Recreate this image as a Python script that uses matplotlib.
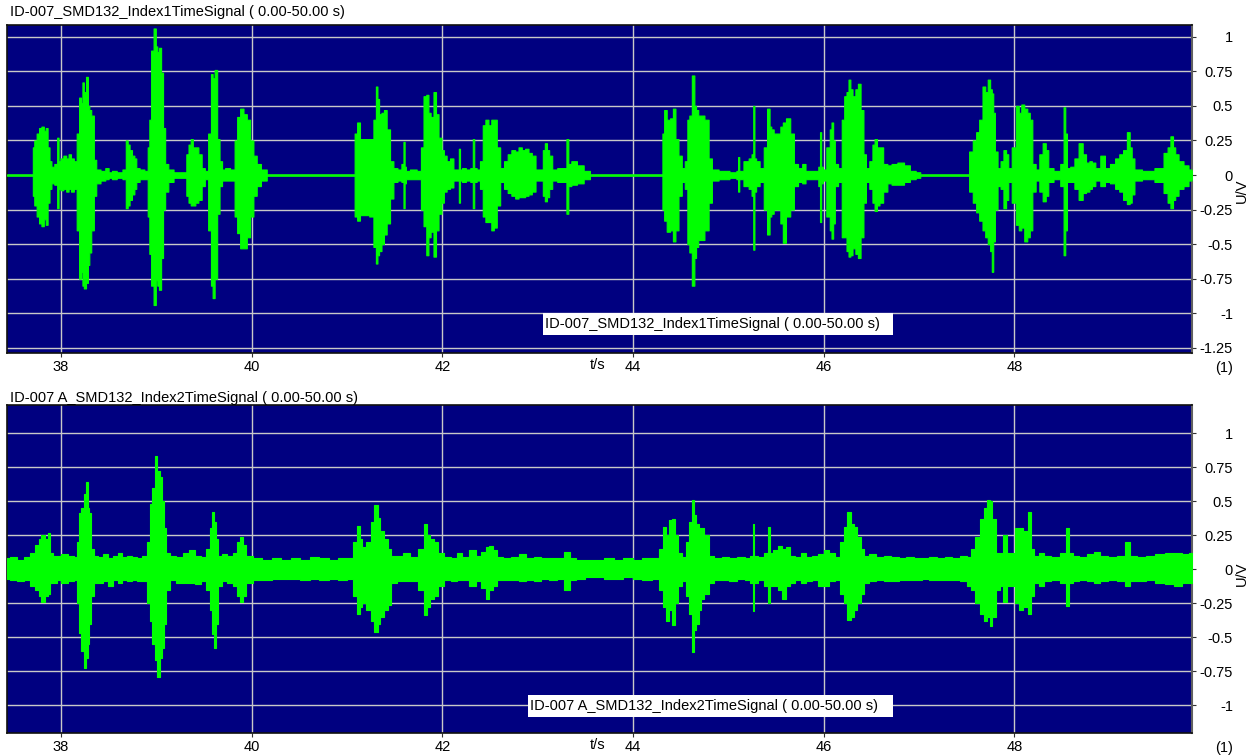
import matplotlib
matplotlib.use("Agg")
import matplotlib.pyplot as plt
from matplotlib.patches import Rectangle

W, H = 1254, 755
plt.rcParams['font.family'] = ['Liberation Sans', 'DejaVu Sans']

# ---------------- data ----------------
title_top = "ID-007_SMD132_Index1TimeSignal ( 0.00-50.00 s)"
title_bot = "ID-007 A_SMD132_Index2TimeSignal ( 0.00-50.00 s)"
x_ticks = [38, 40, 42, 44, 46, 48]
x_ticklabels = ["38", "40", "42", "44", "46", "48"]
y_ticks_top = [1, 0.75, 0.5, 0.25, 0, -0.25, -0.5, -0.75, -1, -1.25]
y_ticklabels_top = ["1", "0.75", "0.5", "0.25", "0", "-0.25", "-0.5", "-0.75", "-1", "-1.25"]
y_ticks_bot = [1, 0.75, 0.5, 0.25, 0, -0.25, -0.5, -0.75, -1]
y_ticklabels_bot = ["1", "0.75", "0.5", "0.25", "0", "-0.25", "-0.5", "-0.75", "-1"]

# Envelope of channel 1 (time in s, upper and lower amplitude in V)
top_time = [
    37.434, 37.70, 37.71, 37.73, 37.76, 37.78, 37.81, 37.83, 37.85, 37.87,
    37.89, 37.91, 37.95, 37.97, 37.98, 38.01, 38.04, 38.07, 38.09, 38.12,
    38.15, 38.18, 38.20, 38.22, 38.23, 38.25, 38.276, 38.29, 38.305, 38.33,
    38.36, 38.38, 38.45, 38.48, 38.52, 38.55, 38.62, 38.67, 38.69, 38.71,
    38.73, 38.76, 38.78, 38.80, 38.85, 38.90, 38.92, 38.934, 38.957, 38.986,
    39.004, 39.017, 39.039, 39.062, 39.080, 39.106, 39.146, 39.216, 39.305, 39.325,
    39.351, 39.371, 39.395, 39.424, 39.459, 39.493, 39.525, 39.563, 39.584, 39.598,
    39.626, 39.651, 39.676, 39.704, 39.739, 39.809, 39.834, 39.862, 39.897, 39.932,
    39.967, 40.001, 40.036, 40.071, 40.124, 40.193, 41.067, 41.094, 41.119, 41.154,
    41.207, 41.260, 41.295, 41.312, 41.327, 41.347, 41.377, 41.399, 41.434, 41.470,
    41.504, 41.556, 41.586, 41.599, 41.611, 41.626, 41.696, 41.766, 41.786, 41.820,
    41.844, 41.865, 41.890, 41.925, 41.943, 41.978, 42.005, 42.028, 42.063, 42.099,
    42.134, 42.168, 42.179, 42.193, 42.221, 42.274, 42.313, 42.327, 42.343, 42.378,
    42.412, 42.437, 42.467, 42.501, 42.527, 42.554, 42.589, 42.625, 42.670, 42.702,
    42.747, 42.782, 42.817, 42.851, 42.887, 42.921, 42.957, 42.999, 43.044, 43.065,
    43.086, 43.110, 43.132, 43.174, 43.237, 43.290, 43.314, 43.330, 43.377, 43.448,
    43.518, 43.580, 44.300, 44.318, 44.336, 44.372, 44.407, 44.431, 44.460, 44.495,
    44.529, 44.558, 44.583, 44.600, 44.635, 44.653, 44.671, 44.698, 44.723, 44.776,
    44.811, 44.845, 44.951, 45.073, 45.097, 45.108, 45.122, 45.196, 45.231, 45.257,
    45.266, 45.282, 45.302, 45.355, 45.389, 45.424, 45.442, 45.460, 45.492, 45.530,
    45.562, 45.582, 45.628, 45.671, 45.705, 45.758, 45.792, 45.828, 45.932, 45.956,
    45.968, 45.981, 46.002, 46.054, 46.075, 46.090, 46.110, 46.125, 46.178, 46.202,
    46.230, 46.250, 46.272, 46.289, 46.317, 46.349, 46.370, 46.405, 46.430, 46.458,
    46.500, 46.524, 46.545, 46.574, 46.598, 46.651, 46.686, 46.739, 46.808, 46.879,
    46.931, 47.001, 47.026, 47.509, 47.543, 47.586, 47.614, 47.649, 47.684, 47.706,
    47.737, 47.756, 47.772, 47.786, 47.807, 47.842, 47.870, 47.902, 47.926, 47.947,
    47.999, 48.034, 48.060, 48.087, 48.122, 48.150, 48.175, 48.203, 48.245, 48.280,
    48.315, 48.345, 48.368, 48.455, 48.509, 48.525, 48.544, 48.561, 48.613, 48.648,
    48.701, 48.734, 48.771, 48.804, 48.824, 48.876, 48.928, 48.974, 49.033, 49.082,
    49.120, 49.162, 49.200, 49.221, 49.242, 49.278, 49.401, 49.539, 49.592, 49.624,
    49.651, 49.679, 49.697, 49.749, 49.801, 49.854, 49.864,
]
top_upper = [
    0.005, 0.005, 0.20, 0.25, 0.30, 0.34, 0.35, 0.32, 0.34, 0.20,
    0.10, 0.06, 0.08, 0.27, 0.10, 0.12, 0.14, 0.12, 0.15, 0.12,
    0.10, 0.30, 0.56, 0.52, 0.67, 0.60, 0.71, 0.50, 0.47, 0.43,
    0.11, 0.04, 0.03, 0.05, 0.02, 0.03, 0.02, 0.04, 0.25, 0.22,
    0.18, 0.14, 0.12, 0.05, 0.04, 0.03, 0.20, 0.40, 0.90, 1.06,
    0.93, 0.89, 0.92, 0.74, 0.34, 0.08, 0.04, 0.02, 0.02, 0.15,
    0.22, 0.26, 0.20, 0.20, 0.15, 0.05, 0.03, 0.30, 0.73, 0.70,
    0.76, 0.26, 0.10, 0.04, 0.05, 0.04, 0.25, 0.42, 0.48, 0.44,
    0.40, 0.25, 0.14, 0.08, 0.04, 0.005, 0.005, 0.30, 0.38, 0.26,
    0.26, 0.26, 0.40, 0.64, 0.55, 0.44, 0.45, 0.47, 0.33, 0.10,
    0.05, 0.04, 0.08, 0.24, 0.06, 0.03, 0.04, 0.03, 0.20, 0.57,
    0.58, 0.45, 0.42, 0.60, 0.44, 0.27, 0.18, 0.14, 0.10, 0.12,
    0.04, 0.04, 0.19, 0.04, 0.05, 0.04, 0.05, 0.26, 0.05, 0.04,
    0.10, 0.36, 0.40, 0.36, 0.40, 0.40, 0.20, 0.05, 0.10, 0.15,
    0.18, 0.17, 0.20, 0.18, 0.19, 0.16, 0.14, 0.04, 0.04, 0.18,
    0.23, 0.18, 0.14, 0.04, 0.05, 0.05, 0.26, 0.08, 0.10, 0.07,
    0.03, 0.005, 0.005, 0.30, 0.47, 0.40, 0.41, 0.48, 0.26, 0.14,
    0.05, 0.10, 0.40, 0.43, 0.72, 0.50, 0.47, 0.43, 0.43, 0.40,
    0.12, 0.04, 0.03, 0.02, 0.03, 0.13, 0.03, 0.10, 0.12, 0.15,
    0.50, 0.12, 0.10, 0.05, 0.20, 0.48, 0.35, 0.33, 0.30, 0.30,
    0.35, 0.38, 0.41, 0.30, 0.08, 0.05, 0.08, 0.03, 0.03, 0.06,
    0.31, 0.06, 0.04, 0.20, 0.33, 0.38, 0.25, 0.08, 0.05, 0.40,
    0.57, 0.60, 0.69, 0.62, 0.57, 0.62, 0.66, 0.47, 0.15, 0.05,
    0.10, 0.22, 0.26, 0.20, 0.20, 0.08, 0.07, 0.08, 0.09, 0.07,
    0.03, 0.02, 0.005, 0.005, 0.17, 0.25, 0.31, 0.40, 0.64, 0.60,
    0.69, 0.62, 0.59, 0.45, 0.17, 0.05, 0.10, 0.18, 0.15, 0.05,
    0.20, 0.50, 0.45, 0.51, 0.48, 0.45, 0.40, 0.08, 0.04, 0.15,
    0.23, 0.18, 0.05, 0.03, 0.08, 0.49, 0.30, 0.05, 0.06, 0.12,
    0.23, 0.15, 0.09, 0.10, 0.09, 0.05, 0.14, 0.05, 0.08, 0.12,
    0.15, 0.18, 0.31, 0.20, 0.12, 0.04, 0.03, 0.05, 0.16, 0.20,
    0.28, 0.20, 0.15, 0.10, 0.07, 0.04, 0.03,
]
top_lower = [
    -0.005, -0.005, -0.15, -0.22, -0.30, -0.35, -0.37, -0.32, -0.36, -0.20,
    -0.10, -0.06, -0.07, -0.24, -0.10, -0.11, -0.10, -0.12, -0.10, -0.12,
    -0.10, -0.40, -0.75, -0.70, -0.80, -0.82, -0.78, -0.65, -0.56, -0.40,
    -0.15, -0.06, -0.04, -0.03, -0.02, -0.03, -0.02, -0.03, -0.24, -0.22,
    -0.18, -0.14, -0.10, -0.05, -0.03, -0.03, -0.30, -0.57, -0.80, -0.94,
    -0.76, -0.80, -0.83, -0.60, -0.25, -0.12, -0.05, -0.02, -0.02, -0.15,
    -0.20, -0.22, -0.22, -0.20, -0.18, -0.08, -0.03, -0.40, -0.80, -0.89,
    -0.75, -0.28, -0.08, -0.04, -0.04, -0.04, -0.30, -0.42, -0.53, -0.53,
    -0.45, -0.30, -0.15, -0.08, -0.04, -0.005, -0.005, -0.30, -0.33, -0.29,
    -0.29, -0.30, -0.52, -0.64, -0.58, -0.55, -0.50, -0.43, -0.35, -0.17,
    -0.05, -0.04, -0.05, -0.24, -0.06, -0.03, -0.03, -0.03, -0.25, -0.37,
    -0.58, -0.45, -0.41, -0.59, -0.40, -0.28, -0.20, -0.12, -0.10, -0.09,
    -0.04, -0.04, -0.20, -0.04, -0.05, -0.04, -0.05, -0.24, -0.05, -0.04,
    -0.10, -0.30, -0.34, -0.34, -0.40, -0.38, -0.22, -0.05, -0.10, -0.13,
    -0.15, -0.17, -0.16, -0.16, -0.15, -0.14, -0.12, -0.04, -0.04, -0.15,
    -0.19, -0.16, -0.10, -0.04, -0.05, -0.05, -0.28, -0.08, -0.07, -0.06,
    -0.03, -0.005, -0.005, -0.25, -0.33, -0.41, -0.40, -0.48, -0.40, -0.15,
    -0.05, -0.10, -0.50, -0.56, -0.80, -0.60, -0.52, -0.47, -0.47, -0.40,
    -0.20, -0.04, -0.03, -0.02, -0.03, -0.12, -0.03, -0.08, -0.10, -0.15,
    -0.54, -0.12, -0.08, -0.05, -0.25, -0.43, -0.30, -0.28, -0.25, -0.25,
    -0.35, -0.49, -0.30, -0.25, -0.08, -0.05, -0.06, -0.03, -0.03, -0.08,
    -0.34, -0.06, -0.04, -0.30, -0.40, -0.46, -0.35, -0.08, -0.05, -0.45,
    -0.45, -0.55, -0.59, -0.58, -0.53, -0.57, -0.60, -0.45, -0.20, -0.05,
    -0.10, -0.20, -0.26, -0.22, -0.20, -0.12, -0.06, -0.07, -0.07, -0.05,
    -0.03, -0.02, -0.005, -0.005, -0.12, -0.20, -0.27, -0.33, -0.40, -0.45,
    -0.50, -0.55, -0.70, -0.48, -0.25, -0.08, -0.10, -0.24, -0.18, -0.05,
    -0.20, -0.36, -0.40, -0.38, -0.48, -0.45, -0.40, -0.12, -0.04, -0.12,
    -0.19, -0.15, -0.05, -0.03, -0.08, -0.58, -0.40, -0.05, -0.05, -0.10,
    -0.18, -0.13, -0.12, -0.10, -0.08, -0.04, -0.08, -0.05, -0.06, -0.10,
    -0.12, -0.18, -0.21, -0.20, -0.14, -0.04, -0.03, -0.05, -0.13, -0.20,
    -0.24, -0.18, -0.15, -0.10, -0.08, -0.04, -0.03,
]

# Envelope of channel 2
bot_time = [
    37.434, 37.50, 37.58, 37.65, 37.71, 37.75, 37.78, 37.81, 37.85, 37.87,
    37.90, 37.94, 37.97, 38.04, 38.11, 38.16, 38.18, 38.20, 38.23, 38.255,
    38.27, 38.29, 38.305, 38.33, 38.36, 38.42, 38.47, 38.52, 38.57, 38.62,
    38.67, 38.72, 38.77, 38.82, 38.88, 38.92, 38.95, 38.97, 39.00, 39.02,
    39.05, 39.07, 39.09, 39.11, 39.17, 39.24, 39.315, 39.375, 39.435, 39.495,
    39.545, 39.575, 39.60, 39.615, 39.635, 39.665, 39.715, 39.775, 39.825, 39.865,
    39.895, 39.925, 39.965, 40.06, 40.16, 40.26, 40.36, 40.46, 40.56, 40.66,
    40.76, 40.86, 40.96, 41.04, 41.087, 41.117, 41.147, 41.177, 41.227, 41.267,
    41.307, 41.337, 41.366, 41.406, 41.446, 41.486, 41.556, 41.626, 41.705, 41.795,
    41.825, 41.855, 41.885, 41.935, 41.985, 42.05, 42.13, 42.18, 42.24, 42.32,
    42.38, 42.44, 42.47, 42.51, 42.55, 42.60, 42.68, 42.76, 42.84, 42.92,
    43.00, 43.08, 43.16, 43.24, 43.31, 43.36, 43.45, 43.55, 43.65, 43.75,
    43.85, 43.95, 44.05, 44.15, 44.25, 44.303, 44.333, 44.363, 44.393, 44.423,
    44.453, 44.493, 44.533, 44.573, 44.600, 44.633, 44.653, 44.673, 44.703, 44.723,
    44.773, 44.813, 44.893, 44.973, 45.052, 45.132, 45.212, 45.252, 45.266, 45.282,
    45.342, 45.402, 45.424, 45.442, 45.492, 45.542, 45.582, 45.622, 45.672, 45.732,
    45.792, 45.841, 45.911, 45.971, 46.03, 46.09, 46.15, 46.20, 46.23, 46.27,
    46.30, 46.33, 46.37, 46.41, 46.44, 46.509, 46.589, 46.669, 46.749, 46.829,
    46.909, 46.989, 47.069, 47.149, 47.229, 47.309, 47.389, 47.469, 47.529, 47.566,
    47.616, 47.666, 47.706, 47.726, 47.756, 47.786, 47.826, 47.866, 47.902, 47.936,
    47.985, 48.035, 48.065, 48.125, 48.155, 48.185, 48.225, 48.285, 48.334, 48.434,
    48.524, 48.554, 48.584, 48.643, 48.723, 48.803, 48.863, 48.943, 49.031, 49.131,
    49.19, 49.24, 49.33, 49.43, 49.53, 49.628, 49.728, 49.798, 49.864,
]
bot_upper = [
    0.08, 0.09, 0.07, 0.09, 0.12, 0.18, 0.22, 0.25, 0.22, 0.27,
    0.12, 0.10, 0.10, 0.11, 0.10, 0.09, 0.20, 0.41, 0.45, 0.55,
    0.64, 0.45, 0.41, 0.15, 0.10, 0.09, 0.11, 0.08, 0.10, 0.12,
    0.09, 0.10, 0.09, 0.08, 0.10, 0.20, 0.48, 0.60, 0.83, 0.72,
    0.68, 0.50, 0.30, 0.12, 0.10, 0.09, 0.12, 0.14, 0.10, 0.09,
    0.15, 0.30, 0.42, 0.35, 0.22, 0.10, 0.11, 0.10, 0.12, 0.20,
    0.24, 0.18, 0.10, 0.08, 0.07, 0.08, 0.07, 0.08, 0.07, 0.09,
    0.08, 0.07, 0.08, 0.08, 0.20, 0.32, 0.22, 0.16, 0.20, 0.35,
    0.47, 0.38, 0.28, 0.22, 0.15, 0.10, 0.10, 0.12, 0.09, 0.15,
    0.33, 0.25, 0.22, 0.20, 0.12, 0.09, 0.08, 0.12, 0.09, 0.14,
    0.10, 0.13, 0.16, 0.17, 0.14, 0.09, 0.08, 0.09, 0.11, 0.08,
    0.09, 0.08, 0.08, 0.08, 0.13, 0.08, 0.07, 0.07, 0.07, 0.08,
    0.07, 0.08, 0.07, 0.08, 0.08, 0.15, 0.31, 0.25, 0.36, 0.37,
    0.25, 0.12, 0.09, 0.20, 0.35, 0.51, 0.40, 0.33, 0.30, 0.30,
    0.25, 0.10, 0.08, 0.09, 0.08, 0.09, 0.08, 0.10, 0.33, 0.10,
    0.09, 0.12, 0.31, 0.12, 0.14, 0.17, 0.15, 0.16, 0.10, 0.09,
    0.12, 0.09, 0.10, 0.11, 0.14, 0.12, 0.09, 0.20, 0.31, 0.42,
    0.33, 0.31, 0.24, 0.15, 0.10, 0.11, 0.09, 0.10, 0.09, 0.08,
    0.09, 0.08, 0.08, 0.09, 0.08, 0.09, 0.08, 0.10, 0.09, 0.15,
    0.24, 0.37, 0.45, 0.51, 0.50, 0.37, 0.12, 0.12, 0.25, 0.12,
    0.12, 0.30, 0.30, 0.28, 0.42, 0.15, 0.10, 0.12, 0.10, 0.09,
    0.12, 0.30, 0.12, 0.10, 0.09, 0.11, 0.13, 0.10, 0.09, 0.10,
    0.20, 0.10, 0.09, 0.10, 0.11, 0.12, 0.12, 0.11, 0.12,
]
bot_lower = [
    -0.07, -0.08, -0.09, -0.08, -0.12, -0.15, -0.20, -0.24, -0.20, -0.18,
    -0.10, -0.10, -0.08, -0.10, -0.09, -0.08, -0.25, -0.47, -0.60, -0.73,
    -0.65, -0.55, -0.40, -0.20, -0.10, -0.10, -0.09, -0.12, -0.08, -0.10,
    -0.08, -0.09, -0.08, -0.09, -0.09, -0.25, -0.38, -0.55, -0.67, -0.79,
    -0.65, -0.58, -0.40, -0.15, -0.08, -0.10, -0.10, -0.10, -0.11, -0.09,
    -0.15, -0.30, -0.48, -0.58, -0.40, -0.12, -0.09, -0.10, -0.12, -0.20,
    -0.24, -0.20, -0.10, -0.08, -0.08, -0.07, -0.07, -0.07, -0.08, -0.07,
    -0.08, -0.07, -0.08, -0.07, -0.20, -0.33, -0.28, -0.25, -0.30, -0.38,
    -0.46, -0.40, -0.35, -0.30, -0.26, -0.10, -0.09, -0.09, -0.09, -0.15,
    -0.34, -0.28, -0.22, -0.20, -0.12, -0.08, -0.09, -0.08, -0.08, -0.12,
    -0.09, -0.14, -0.22, -0.15, -0.12, -0.08, -0.08, -0.08, -0.09, -0.08,
    -0.09, -0.07, -0.08, -0.07, -0.15, -0.08, -0.07, -0.06, -0.06, -0.07,
    -0.07, -0.06, -0.07, -0.08, -0.07, -0.15, -0.28, -0.38, -0.30, -0.41,
    -0.25, -0.12, -0.09, -0.20, -0.33, -0.61, -0.45, -0.40, -0.30, -0.22,
    -0.18, -0.10, -0.08, -0.08, -0.09, -0.07, -0.08, -0.10, -0.31, -0.10,
    -0.08, -0.12, -0.25, -0.12, -0.12, -0.15, -0.22, -0.12, -0.10, -0.08,
    -0.10, -0.09, -0.08, -0.12, -0.12, -0.09, -0.08, -0.18, -0.25, -0.375,
    -0.35, -0.30, -0.25, -0.18, -0.10, -0.09, -0.08, -0.09, -0.09, -0.08,
    -0.08, -0.08, -0.07, -0.08, -0.08, -0.08, -0.08, -0.09, -0.12, -0.15,
    -0.25, -0.33, -0.38, -0.35, -0.42, -0.35, -0.15, -0.12, -0.24, -0.12,
    -0.12, -0.25, -0.30, -0.28, -0.33, -0.20, -0.10, -0.12, -0.09, -0.08,
    -0.10, -0.27, -0.10, -0.09, -0.08, -0.09, -0.10, -0.09, -0.08, -0.09,
    -0.12, -0.09, -0.09, -0.08, -0.10, -0.11, -0.12, -0.10, -0.10,
]

# ---------------- styling ----------------
BG = '#000080'
GREEN = '#00ff00'
GRID = '#c8c8c8'
FS = 10.5

fig = plt.figure(figsize=(W / 100, H / 100), dpi=100)
fig.patch.set_facecolor('white')


def px_axes(l, t, r, b):
    return fig.add_axes([l / W, 1 - b / H, (r - l) / W, (b - t) / H])


def fx(x):
    return x / W


def fy(y):
    return 1 - y / H


panels = [
    dict(box=(7, 25, 1192, 353), t=top_time, up=top_upper, lo=top_lower,
         ylim=(-1.287, 1.085), yt=y_ticks_top, ytl=y_ticklabels_top,
         title=title_top, title_y=12, legend=(543, 313, 893, 335),
         xlab_y=365, unit_y=368, uv_y=191),
    dict(box=(7, 405, 1192, 733), t=bot_time, up=bot_upper, lo=bot_lower,
         ylim=(-1.205, 1.208), yt=y_ticks_bot, ytl=y_ticklabels_bot,
         title=title_bot, title_y=398, legend=(528, 695, 893, 717),
         xlab_y=745, unit_y=748, uv_y=574),
]

for p in panels:
    ax = px_axes(*p['box'])
    ax.set_facecolor(BG)
    ax.fill_between(p['t'], p['lo'], p['up'], step='mid', facecolor=GREEN,
                    edgecolor=GREEN, linewidth=0.8, zorder=3)
    ax.set_xlim(37.434, 49.864)
    ax.set_ylim(*p['ylim'])
    ax.set_xticks(x_ticks)
    ax.set_xticklabels(x_ticklabels)
    ax.yaxis.tick_right()
    ax.set_yticks(p['yt'])
    ax.set_yticklabels(p['ytl'])
    ax.set_axisbelow(True)
    ax.grid(True, color=GRID, linewidth=1.0)
    ax.tick_params(axis='both', direction='out', length=3, width=0.8,
                   color='#303030', labelsize=FS, labelcolor='black')
    ax.tick_params(axis='x', pad=2)
    ax.tick_params(axis='y', pad=26.6)
    for lab in ax.get_yticklabels():
        lab.set_horizontalalignment('right')
    for s in ['left', 'top', 'bottom']:
        ax.spines[s].set_color('#101010')
        ax.spines[s].set_linewidth(1.2)
    ax.spines['right'].set_color('#606060')
    ax.spines['right'].set_linewidth(1.5)

    # title
    fig.text(fx(10), fy(p['title_y']), p['title'], fontsize=FS,
             ha='left', va='center')
    # label box
    l, t, r, b = p['legend']
    fig.add_artist(Rectangle((fx(l), fy(b)), (r - l) / W, (b - t) / H,
                             transform=fig.transFigure, facecolor='white',
                             edgecolor='none', zorder=5))
    fig.text(fx(l + 2), fy((t + b) / 2), p['title'], fontsize=FS,
             ha='left', va='center', zorder=6)
    # axis labels
    fig.text(fx(598), fy(p['xlab_y']), 't/s', fontsize=FS,
             ha='center', va='center')
    fig.text(fx(1233), fy(p['unit_y']), '(1)', fontsize=FS,
             ha='right', va='center')
    fig.text(fx(1242), fy(p['uv_y']), 'U/V', fontsize=FS, rotation=90,
             ha='center', va='center')

fig.savefig('out.png', dpi=100)
